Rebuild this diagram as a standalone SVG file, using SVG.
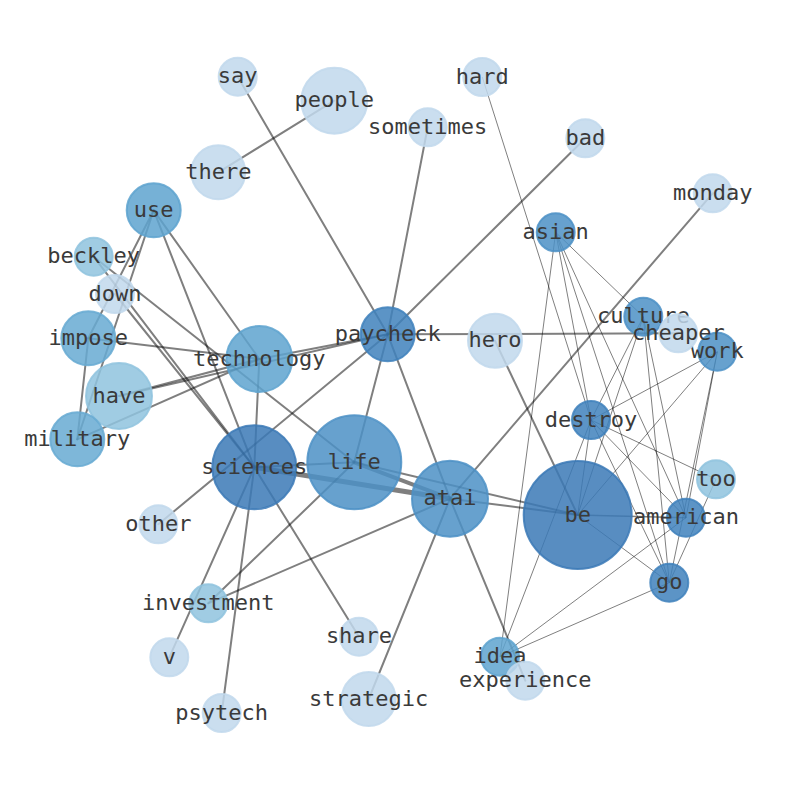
<svg xmlns="http://www.w3.org/2000/svg" width="794" height="790" viewBox="0 0 794 790">
<style>
.e{stroke:#000;stroke-opacity:0.5;stroke-width:2;fill:none;stroke-linecap:round}
.t{stroke:#000;stroke-opacity:0.5;stroke-width:1;fill:none}
.m{stroke:#000;stroke-opacity:0.5;stroke-width:1.6;fill:none}
.k{stroke:#000;stroke-opacity:0.5;stroke-width:5;fill:none;stroke-linecap:round}
.k2{stroke:#000;stroke-opacity:0.5;stroke-width:4;fill:none;stroke-linecap:round}
circle{fill-opacity:0.85;stroke-opacity:0.85;stroke-width:2}
.c1{fill:#c1d8ec;stroke:#c1d8ec}
.c2{fill:#8fc3de;stroke:#8fc3de}
.c3{fill:#67aad2;stroke:#67aad2}
.c4{fill:#5ea3cf;stroke:#5ea3cf}
.c5{fill:#4c90c5;stroke:#4c90c5}
.c6{fill:#4081bc;stroke:#4081bc}
.c7{fill:#3b79b6;stroke:#3b79b6}
text{font-family:"DejaVu Sans Mono","Liberation Mono",monospace;font-size:22px;fill:#3a3a3a;text-anchor:middle}
</style>
<rect width="794" height="790" fill="#fff"/>
<g id="connectors">
<line class="e" x1="237.7" y1="76.7" x2="387.7" y2="334.3"/>
<line class="e" x1="334.3" y1="100.7" x2="218.3" y2="172.3"/>
<line class="e" x1="427.7" y1="127.3" x2="387.7" y2="334.3"/>
<line class="e" x1="585.3" y1="138.3" x2="387.7" y2="334.3"/>
<line class="e" x1="712.7" y1="193.3" x2="450" y2="498.7"/>
<line class="e" x1="387.7" y1="334.3" x2="678.3" y2="333.3"/>
<line class="e" x1="387.7" y1="334.3" x2="259.3" y2="359"/>
<line class="e" x1="387.7" y1="334.3" x2="354.3" y2="462.3"/>
<line class="e" x1="387.7" y1="334.3" x2="450" y2="498.7"/>
<line class="e" x1="387.7" y1="334.3" x2="158.3" y2="524.3"/>
<line class="e" x1="119" y1="396" x2="387.7" y2="334.3"/>
<line class="e" x1="119" y1="396" x2="259.3" y2="359"/>
<line class="e" x1="77.3" y1="439.3" x2="259.3" y2="359"/>
<line class="e" x1="88.3" y1="338.3" x2="259.3" y2="359"/>
<line class="e" x1="153.7" y1="210.3" x2="259.3" y2="359"/>
<line class="e" x1="153.7" y1="210.3" x2="254.3" y2="467.3"/>
<line class="e" x1="153.7" y1="210.3" x2="88.3" y2="338.3"/>
<line class="e" x1="153.7" y1="210.3" x2="77.3" y2="439.3"/>
<line class="e" x1="88.3" y1="338.3" x2="77.3" y2="439.3"/>
<line class="e" x1="93.7" y1="256.7" x2="254.3" y2="467.3"/>
<line class="e" x1="115" y1="294" x2="254.3" y2="467.3"/>
<line class="e" x1="93.7" y1="256.7" x2="354.3" y2="462.3"/>
<line class="e" x1="259.3" y1="359" x2="254.3" y2="467.3"/>
<line class="e" x1="254.3" y1="467.3" x2="354.3" y2="462.3"/>
<line class="e" x1="354.3" y1="462.3" x2="577.7" y2="515"/>
<line class="e" x1="450" y1="498.7" x2="577.7" y2="515"/>
<line class="e" x1="495" y1="340.7" x2="577.7" y2="515"/>
<line class="e" x1="254.3" y1="467.3" x2="169.3" y2="657.3"/>
<line class="e" x1="254.3" y1="467.3" x2="221.7" y2="713"/>
<line class="e" x1="254.3" y1="467.3" x2="359" y2="636.7"/>
<line class="e" x1="354.3" y1="462.3" x2="208.3" y2="603.3"/>
<line class="e" x1="450" y1="498.7" x2="208.3" y2="603.3"/>
<line class="e" x1="450" y1="498.7" x2="368.7" y2="699"/>
<line class="e" x1="450" y1="498.7" x2="525.3" y2="680.7"/>
<line class="k" x1="254.3" y1="467.3" x2="450" y2="498.7"/>
<line class="k2" x1="354.3" y1="462.3" x2="450" y2="498.7"/>
<line class="t" x1="482.3" y1="77" x2="591" y2="420"/>
<line class="t" x1="555.7" y1="232.3" x2="500" y2="656.7"/>
<line class="t" x1="555.7" y1="232.3" x2="591" y2="420"/>
<line class="t" x1="555.7" y1="232.3" x2="643.3" y2="316.7"/>
<line class="t" x1="555.7" y1="232.3" x2="686" y2="517.7"/>
<line class="t" x1="555.7" y1="232.3" x2="669.3" y2="582.7"/>
<line class="t" x1="643.3" y1="316.7" x2="591" y2="420"/>
<line class="t" x1="643.3" y1="316.7" x2="577.7" y2="515"/>
<line class="t" x1="643.3" y1="316.7" x2="686" y2="517.7"/>
<line class="t" x1="643.3" y1="316.7" x2="669.3" y2="582.7"/>
<line class="t" x1="717.3" y1="351.7" x2="591" y2="420"/>
<line class="t" x1="717.3" y1="351.7" x2="577.7" y2="515"/>
<line class="t" x1="717.3" y1="351.7" x2="686" y2="517.7"/>
<line class="t" x1="717.3" y1="351.7" x2="669.3" y2="582.7"/>
<line class="t" x1="591" y1="420" x2="577.7" y2="515"/>
<line class="t" x1="591" y1="420" x2="686" y2="517.7"/>
<line class="t" x1="591" y1="420" x2="669.3" y2="582.7"/>
<line class="t" x1="591" y1="420" x2="716" y2="479.3"/>
<line class="t" x1="591" y1="420" x2="500" y2="656.7"/>
<line class="m" x1="577.7" y1="515" x2="686" y2="517.7"/>
<line class="t" x1="577.7" y1="515" x2="669.3" y2="582.7"/>
<line class="t" x1="686" y1="517.7" x2="500" y2="656.7"/>
<line class="t" x1="669.3" y1="582.7" x2="500" y2="656.7"/>
<line class="t" x1="716" y1="479.3" x2="669.3" y2="582.7"/>
</g>
<g id="nodes">
<g id="node-say"><circle class="c1" cx="237.7" cy="76.7" r="19"/><text x="237.7" y="83">say</text></g>
<g id="node-people"><circle class="c1" cx="334.3" cy="100.7" r="33"/><text x="334.3" y="107">people</text></g>
<g id="node-hard"><circle class="c1" cx="482.3" cy="77" r="19"/><text x="482.3" y="83.5">hard</text></g>
<g id="node-sometimes"><circle class="c1" cx="427.7" cy="127.3" r="19"/><text x="427.7" y="133.8">sometimes</text></g>
<g id="node-bad"><circle class="c1" cx="585.3" cy="138.3" r="19"/><text x="585.3" y="144.8">bad</text></g>
<g id="node-there"><circle class="c1" cx="218.3" cy="172.3" r="27"/><text x="218.3" y="178.8">there</text></g>
<g id="node-monday"><circle class="c1" cx="712.7" cy="193.3" r="19"/><text x="712.7" y="199.8">monday</text></g>
<g id="node-use"><circle class="c4" cx="153.7" cy="210.3" r="27"/><text x="153.7" y="216.8">use</text></g>
<g id="node-asian"><circle class="c5" cx="555.7" cy="232.3" r="19"/><text x="555.7" y="238.8">asian</text></g>
<g id="node-beckley"><circle class="c2" cx="93.7" cy="256.7" r="19"/><text x="93.7" y="263.2">beckley</text></g>
<g id="node-down"><circle class="c1" cx="115" cy="294" r="19"/><text x="115" y="300.5">down</text></g>
<g id="node-paycheck"><circle class="c6" cx="387.7" cy="334.3" r="27"/><text x="387.7" y="340.8">paycheck</text></g>
<g id="node-work"><circle class="c5" cx="717.3" cy="351.7" r="19"/><text x="717.3" y="358.2">work</text></g>
<g id="node-culture"><circle class="c5" cx="643.3" cy="316.7" r="19"/><text x="643.3" y="323.2">culture</text></g>
<g id="node-cheaper"><circle class="c1" cx="678.3" cy="333.3" r="19"/><text x="678.3" y="339.8">cheaper</text></g>
<g id="node-hero"><circle class="c1" cx="495" cy="340.7" r="27"/><text x="495" y="347.2">hero</text></g>
<g id="node-impose"><circle class="c3" cx="88.3" cy="338.3" r="27"/><text x="88.3" y="344.8">impose</text></g>
<g id="node-technology"><circle class="c4" cx="259.3" cy="359" r="33"/><text x="259.3" y="365.5">technology</text></g>
<g id="node-have"><circle class="c2" cx="119" cy="396" r="33"/><text x="119" y="402.5">have</text></g>
<g id="node-destroy"><circle class="c6" cx="591" cy="420" r="19"/><text x="591" y="426.5">destroy</text></g>
<g id="node-military"><circle class="c3" cx="77.3" cy="439.3" r="27"/><text x="77.3" y="445.8">military</text></g>
<g id="node-life"><circle class="c5" cx="354.3" cy="462.3" r="47"/><text x="354.3" y="468.8">life</text></g>
<g id="node-sciences"><circle class="c7" cx="254.3" cy="467.3" r="42"/><text x="254.3" y="473.8">sciences</text></g>
<g id="node-too"><circle class="c2" cx="716" cy="479.3" r="19"/><text x="716" y="485.8">too</text></g>
<g id="node-atai"><circle class="c5" cx="450" cy="498.7" r="38"/><text x="450" y="505.2">atai</text></g>
<g id="node-be"><circle class="c7" cx="577.7" cy="515" r="54"/><text x="577.7" y="521.5">be</text></g>
<g id="node-american"><circle class="c6" cx="686" cy="517.7" r="19"/><text x="686" y="524.2">american</text></g>
<g id="node-other"><circle class="c1" cx="158.3" cy="524.3" r="19"/><text x="158.3" y="530.8">other</text></g>
<g id="node-go"><circle class="c6" cx="669.3" cy="582.7" r="19"/><text x="669.3" y="589.2">go</text></g>
<g id="node-investment"><circle class="c2" cx="208.3" cy="603.3" r="19"/><text x="208.3" y="609.8">investment</text></g>
<g id="node-share"><circle class="c1" cx="359" cy="636.7" r="19"/><text x="359" y="643.2">share</text></g>
<g id="node-v"><circle class="c1" cx="169.3" cy="657.3" r="19"/><text x="169.3" y="663.8">v</text></g>
<g id="node-idea"><circle class="c4" cx="500" cy="656.7" r="19"/><text x="500" y="663.2">idea</text></g>
<g id="node-experience"><circle class="c1" cx="525.3" cy="680.7" r="19"/><text x="525.3" y="687.2">experience</text></g>
<g id="node-strategic"><circle class="c1" cx="368.7" cy="699" r="27"/><text x="368.7" y="705.5">strategic</text></g>
<g id="node-psytech"><circle class="c1" cx="221.7" cy="713" r="19"/><text x="221.7" y="719.5">psytech</text></g>
</g>
</svg>
